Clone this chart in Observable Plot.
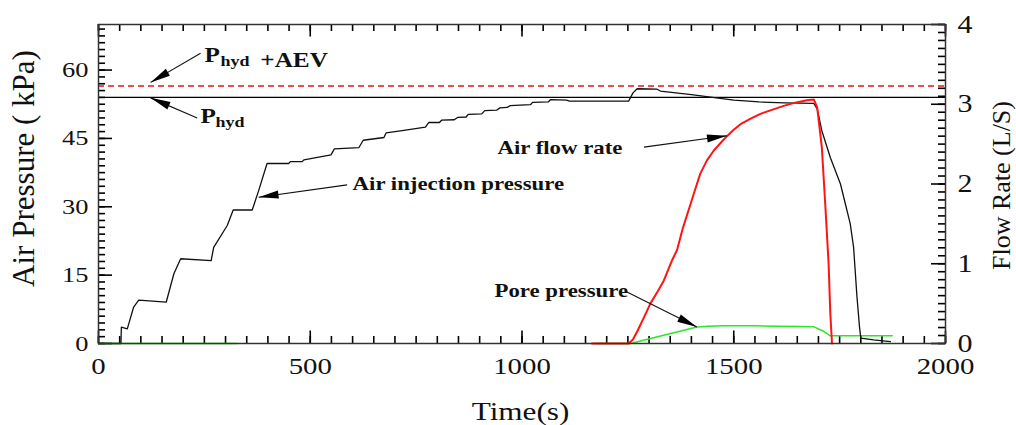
<!DOCTYPE html>
<html>
<head>
<meta charset="utf-8">
<script src="https://cdn.jsdelivr.net/npm/d3@7"></script>
<script src="https://cdn.jsdelivr.net/npm/@observablehq/plot@0.6"></script>
<style>
  html, body { margin: 0; padding: 0; background: #fff; }
  #chart svg { display: block; font-family: "Liberation Serif", "Times New Roman", serif; color: #111; }
</style>
</head>
<body>
<div id="chart"></div>
<script>
// ---------------- data ----------------
const airTime = [0,53,54,68,83,95,160,178,194,266,272,304,318,363,378,398,449,453,481,485,549,557,615,625,674,679,717,772,780,805,810,840,848,868,873,905,912,940,948,965,972,1020,1025,1062,1067,1105,1112,1252,1262,1272,1319,1327,1400,1450,1500,1560,1620,1689,1697,1708,1728,1752,1775,1783,1791,1797,1800,1830,1870];
const airKPa = [0,0,3.6,3.2,8,9.5,9.1,15.3,18.6,18.2,21.1,25.9,29.3,29.3,33.5,39.5,39.5,39.9,39.9,40.3,41.4,42.7,43.0,44.6,45.2,46.2,46.7,47.5,48.5,48.5,49.0,49.1,49.6,49.7,50.3,50.4,51.1,51.2,51.7,51.8,52.2,52.4,52.9,53.0,53.5,53.4,53.2,53.2,55.0,55.9,55.8,55.4,54.6,54.0,53.4,53.0,52.8,52.7,51.5,46.7,40.8,35.0,26.3,21.1,10.2,3.6,1.2,0.8,0.4];

const flowTime = [1165,1252,1262,1272,1290,1303,1320,1335,1354,1366,1380,1398,1410,1421,1437,1453,1470,1484,1500,1516,1540,1563,1590,1618,1645,1673,1689,1697,1708,1716,1724,1728,1732];
const flowLps = [0,0,0.05,0.15,0.35,0.5,0.65,0.79,1.04,1.17,1.45,1.75,1.95,2.13,2.3,2.42,2.52,2.6,2.68,2.75,2.82,2.88,2.93,2.98,3.02,3.05,3.06,2.96,2.46,1.75,1.0,0.375,0];

const poreTime = [0,327,750,1173,1256,1413,1440,1476,1550,1600,1660,1689,1710,1728,1874];
const poreKPa = [0,0,null,0,0,3.6,3.8,3.9,3.9,3.8,3.75,3.65,2.8,1.7,1.7];

const pHyd = 54;
const pHydAev = 56.5;

const xTickLabels = [0,500,1000,1500,2000];
const yLeftTickLabels = [0,15,30,45,60];
const yRightTickLabels = [0,1,2,3,4];

const xDomain = [0, 2000];
const yDomain = [0, 70];      // kPa
const flowDomain = [0, 4];    // L/S

// annotation anchors (data units: time s, pressure kPa)
const bigPText = ["P", "P", "+AEV"];
const bigPTime = [250, 241, 382];
const bigPKPa = [61.7, 48.3, 60.6];
const subText = ["hyd", "hyd"];
const subTime = [288, 276];
const subKPa = [60.8, 47.6];
const noteText = ["Air injection pressure", "Air flow rate", "Pore pressure"];
const noteTime = [600, 942, 935];
const noteKPa = [33.6, 41.5, 10.2];

const arrowX1 = [241, 233, 587, 1288, 1248];
const arrowY1 = [63.7, 49.5, 34.8, 43.1, 11.3];
const arrowX2 = [123, 123, 378, 1484, 1413];
const arrowY2 = [57.3, 53.9, 32.1, 45.6, 3.6];

// ---------------- layout ----------------
const W = 1016, H = 425;
const mL = 98, mR = 71, mT = 24, mB = 82;
const PW = W - mL - mR, PH = H - mT - mB;
const F = yDomain[1] / flowDomain[1]; // L/S -> kPa-equivalent on shared y scale
const kx = PW / (xDomain[1] - xDomain[0]);
const ky = PH / (yDomain[1] - yDomain[0]);

const air = airTime.map((t, i) => ({t, v: airKPa[i]}));
const flow = flowTime.map((t, i) => ({t, v: flowLps[i]}));
const pore = poreTime.map((t, i) => ({t, v: poreKPa[i]}));
const bigP = bigPText.map((s, i) => ({s, t: bigPTime[i], v: bigPKPa[i]}));
const subs = subText.map((s, i) => ({s, t: subTime[i], v: subKPa[i]}));
const notes = noteText.map((s, i) => ({s, t: noteTime[i], v: noteKPa[i]}));
const arrows = arrowX1.map((x1, i) => ({x1, y1: arrowY1[i], x2: arrowX2[i], y2: arrowY2[i]}));

function headSymbol(a) {
  const L = 20, Wd = 8;
  const c = Math.cos(a), s = Math.sin(a);
  return {
    draw(ctx) {
      const bx = -L * c, by = -L * s, px = -s * Wd / 2, py = c * Wd / 2;
      ctx.moveTo(0, 0);
      ctx.lineTo(bx + px, by + py);
      ctx.lineTo(bx - px, by - py);
      ctx.closePath();
    }
  };
}
const headMarks = arrows.map(d => {
  const a = Math.atan2(-(d.y2 - d.y1) * ky, (d.x2 - d.x1) * kx);
  return Plot.dot([d], {x: "x2", y: "y2", symbol: headSymbol(a), fill: "#000", stroke: "none", r: 5});
});

// inward tick marks
const minorX = d3.range(0, 2001, 50);
const minorYL = d3.range(0, 47).map(i => i * 1.5);
const minorYR = d3.range(0, 41).map(i => i * 0.1 * F);
const majorYR = yRightTickLabels.map(v => v * F);
const tickStyle = {stroke: "#000", strokeWidth: 1.6};
const xa = xDomain[0], xb = xDomain[1], ya = yDomain[0], yb = yDomain[1];

const chart = Plot.plot({
  width: W, height: H,
  marginLeft: mL, marginRight: mR, marginTop: mT, marginBottom: mB,
  x: {domain: xDomain},
  y: {domain: yDomain},
  marks: [
    // inward ticks first (bottom, top, left, right), full-frame tick marks trimmed by insets
    Plot.tickX(minorX, {x: d => d, insetTop: PH - 7, ...tickStyle}),
    Plot.tickX(xTickLabels, {x: d => d, insetTop: PH - 12.5, ...tickStyle}),
    Plot.tickX(minorX, {x: d => d, insetBottom: PH - 7, ...tickStyle}),
    Plot.tickX(xTickLabels, {x: d => d, insetBottom: PH - 12.5, ...tickStyle}),
    Plot.tickY(minorYL, {y: d => d, insetRight: PW - 7, ...tickStyle}),
    Plot.tickY(yLeftTickLabels, {y: d => d, insetRight: PW - 14, ...tickStyle}),
    Plot.tickY(minorYR, {y: d => d, insetLeft: PW - 7, ...tickStyle}),
    Plot.tickY(majorYR, {y: d => d, insetLeft: PW - 14, ...tickStyle}),
    Plot.ruleY([pHyd], {stroke: "#000", strokeWidth: 1.4}),
    Plot.ruleY([pHydAev], {stroke: "#e8141c", strokeWidth: 1.3, strokeDasharray: "6,4"}),
    Plot.line(pore, {x: "t", y: "v", stroke: "#28e828", strokeWidth: 1.5}),
    Plot.line(air, {x: "t", y: "v", stroke: "#111", strokeWidth: 1.3}),
    Plot.line(flow, {x: "t", y: d => d.v * F, stroke: "#ff1414", strokeWidth: 2}),
    Plot.frame({stroke: "#333", strokeWidth: 1.5}),
    // tick labels
    Plot.axisX({ticks: xTickLabels, tickSize: 0, tickPadding: 13, fontSize: 24, label: null, fill: "#111",
      tickFormat: d => String(d)}),
    Plot.axisY({ticks: yLeftTickLabels, tickSize: 0, tickPadding: 10, fontSize: 22, label: null, fill: "#111",
      tickFormat: d => String(d)}),
    Plot.axisY({anchor: "right", ticks: majorYR, tickSize: 0, tickPadding: 12, fontSize: 25,
      tickFormat: d => String(Math.round(d / F)), label: null, fill: "#111"}),
    // axis titles
    Plot.text(["Air Pressure ( kPa)"], {text: d => d, frameAnchor: "left", rotate: -90, dx: -64.5, dy: -15.5,
      lineAnchor: "bottom", textAnchor: "middle", fontSize: 31, fill: "#111"}),
    Plot.text(["Flow Rate (L/S)"], {text: d => d, frameAnchor: "right", rotate: -90, dx: 64, dy: 1.5,
      lineAnchor: "bottom", textAnchor: "middle", fontSize: 26, fill: "#111"}),
    Plot.text(["Time(s)"], {text: d => d, frameAnchor: "bottom", dx: -1.5, dy: 76.5,
      lineAnchor: "bottom", textAnchor: "middle", fontSize: 26, fill: "#111"}),
    // annotations
    Plot.text(bigP, {x: "t", y: "v", text: "s", textAnchor: "start", lineAnchor: "bottom", fontSize: 21, fontWeight: "bold", fill: "#111"}),
    Plot.text(subs, {x: "t", y: "v", text: "s", textAnchor: "start", lineAnchor: "bottom", fontSize: 15, fontWeight: "bold", fill: "#111"}),
    Plot.text(notes, {x: "t", y: "v", text: "s", textAnchor: "start", lineAnchor: "bottom", fontSize: 19, fontWeight: "bold", fill: "#111"}),
    Plot.link(arrows, {x1: "x1", y1: "y1", x2: "x2", y2: "y2", stroke: "#111", strokeWidth: 1.1}),
    ...headMarks
  ]
});

document.getElementById("chart").append(chart);

// mimic the horizontally wide glyphs of the original
const STRETCH = 1.2;
chart.querySelectorAll("text").forEach(t => {
  const tr = t.getAttribute("transform") || "";
  if (/rotate/.test(tr)) return;
  if (!t.textContent) return;
  const len = t.getComputedTextLength();
  if (len > 0) {
    t.setAttribute("textLength", (len * STRETCH).toFixed(2));
    t.setAttribute("lengthAdjust", "spacingAndGlyphs");
  }
});
</script>
</body>
</html>
